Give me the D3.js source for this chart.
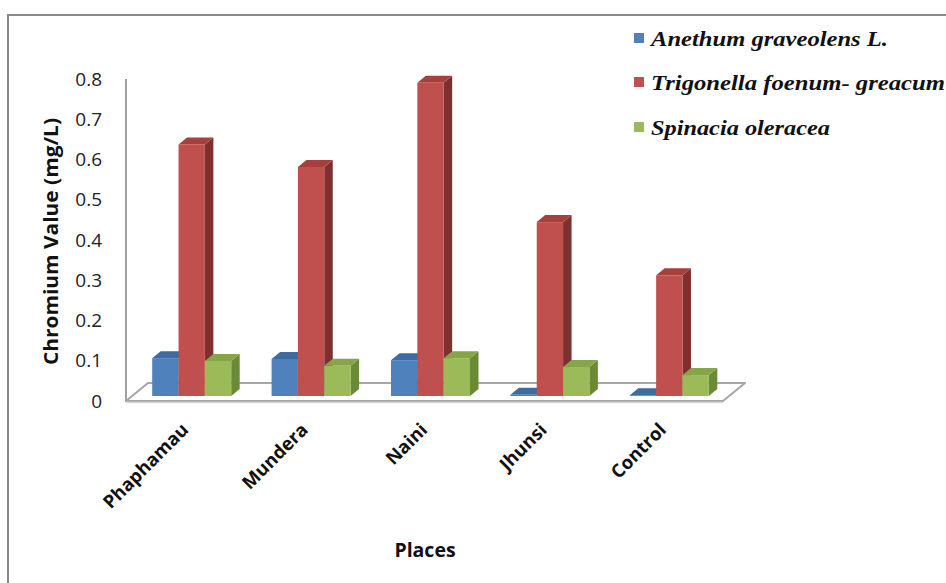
<!DOCTYPE html>
<html><head><meta charset="utf-8">
<script src="https://cdn.jsdelivr.net/npm/d3@7"></script>
<style>body{margin:0;background:#fff}svg{display:block}</style>
</head><body><svg id="c" width="946" height="583"></svg>
<script>
const places = ["Phaphamau","Mundera","Naini","Jhunsi","Control"];
const seriesNames = ["Anethum graveolens L.","Trigonella foenum- greacum","Spinacia oleracea"];
const anethum = [0.094,0.092,0.089,0.003,0.002];
const trigonella = [0.625,0.569,0.778,0.432,0.30];
const spinacia = [0.087,0.075,0.094,0.072,0.052];
const yTicks = [0,0.1,0.2,0.3,0.4,0.5,0.6,0.7,0.8];
const seriesValues = [anethum, trigonella, spinacia];
const faceColors = [
  {front:"#4f81bd", top:"#3d6ba2", side:"#2f5788"},
  {front:"#c0504d", top:"#a5403d", side:"#7e302e"},
  {front:"#9bbb59", top:"#86a549", side:"#6b8a37"}
];

const svg = d3.select("#c");
svg.append("rect").attr("width",946).attr("height",583).attr("fill","#fff");
svg.append("path").attr("d","M8,583V15H946").attr("fill","none").attr("stroke","#8a8a8a").attr("stroke-width",2);

const X0 = 126, X1 = 723, Y0 = 401, Y1 = 79;
const depth = {dx:22, dy:-18};
const y = d3.scaleLinear().domain([0,0.8]).range([Y0,Y1]);
const x = d3.scaleBand().domain(places).range([X0,X1]).padding(0);
const xs = d3.scaleBand().domain(d3.range(3)).range([20.2, 99.2]).padding(0);

// floor
svg.append("path")
  .attr("d",`M${X0},${Y0}L${X1},${Y0}L${X1+depth.dx},${Y0+depth.dy}L${X0+depth.dx},${Y0+depth.dy}Z`)
  .attr("fill","#fff").attr("stroke","#a6a6a6").attr("stroke-width",2).attr("stroke-linejoin","round");
svg.append("line").attr("x1",X0).attr("x2",X1).attr("y1",Y0+1.5).attr("y2",Y0+1.5)
  .attr("stroke","#d9d9d9").attr("stroke-width",1.5);

// vertical axis line
svg.append("line").attr("x1",X0).attr("x2",X0).attr("y1",Y1).attr("y2",Y0)
  .attr("stroke","#a0a0a0").attr("stroke-width",2);

// tick labels
svg.append("g").selectAll("text").data(yTicks).join("text")
  .attr("x",102).attr("y",d=>y(d)).attr("dy","0.35em")
  .attr("text-anchor","end").attr("font-family","Open Sans").attr("font-size",19).attr("fill","#222")
  .text(d=>d===0?"0":d3.format(".1f")(d));

// bars
const off = {dx:6, dy:-5};
const bd = {dx:8.5, dy:-7};
const bars = [];
places.forEach((p,i)=>{
  seriesValues.forEach((vals,s)=>{ bars.push({p, s, v: vals[i]}); });
});
const g = svg.append("g");
bars.forEach(b=>{
  const xl = x(b.p) + off.dx + xs(b.s);
  const xr = xl + xs.bandwidth();
  const yb = Y0 + off.dy;
  const yt = y(b.v) + off.dy;
  const c = faceColors[b.s];
  g.append("path").attr("d",`M${xr},${yb}L${xr+bd.dx},${yb+bd.dy}L${xr+bd.dx},${yt+bd.dy}L${xr},${yt}Z`).attr("fill",c.side);
  g.append("path").attr("d",`M${xl},${yt}L${xr},${yt}L${xr+bd.dx},${yt+bd.dy}L${xl+bd.dx},${yt+bd.dy}Z`).attr("fill",c.top);
  g.append("rect").attr("x",xl).attr("y",yt).attr("width",xs.bandwidth()).attr("height",Math.max(0,yb-yt)).attr("fill",c.front);
});

// x labels
svg.append("g").selectAll("text").data(places).join("text")
  .attr("transform",d=>`translate(${x(d)+x.bandwidth()/2+4},${431}) rotate(-45)`)
  .attr("text-anchor","end").attr("font-family","Open Sans").attr("font-weight","bold")
  .attr("font-size",18.5).attr("fill","#111").text(d=>d);

// axis titles
svg.append("text").attr("transform","translate(58,241.5) rotate(-90)").attr("text-anchor","middle")
  .attr("font-family","Open Sans").attr("font-weight","bold").attr("font-size",19).attr("fill","#111")
  .attr("textLength",247).attr("lengthAdjust","spacingAndGlyphs")
  .text("Chromium Value (mg/L)");
svg.append("text").attr("x",425).attr("y",557).attr("text-anchor","middle")
  .attr("font-family","Open Sans").attr("font-weight","bold").attr("font-size",19.5).attr("fill","#111")
  .text("Places");

// legend
const legY = [33, 77, 122];
const legW = [237, 294, 179];
const lg = svg.append("g").selectAll("g").data(seriesNames).join("g");
lg.append("rect").attr("x",634).attr("y",(d,i)=>legY[i]).attr("width",10).attr("height",10)
  .attr("fill",(d,i)=>faceColors[i].front);
lg.append("text").attr("x",651).attr("y",(d,i)=>legY[i]+13)
  .attr("font-family","Liberation Serif").attr("font-style","italic").attr("font-weight","bold")
  .attr("font-size",21).attr("fill","#111")
  .attr("textLength",(d,i)=>legW[i]).attr("lengthAdjust","spacingAndGlyphs")
  .text(d=>d);
</script></body></html>
